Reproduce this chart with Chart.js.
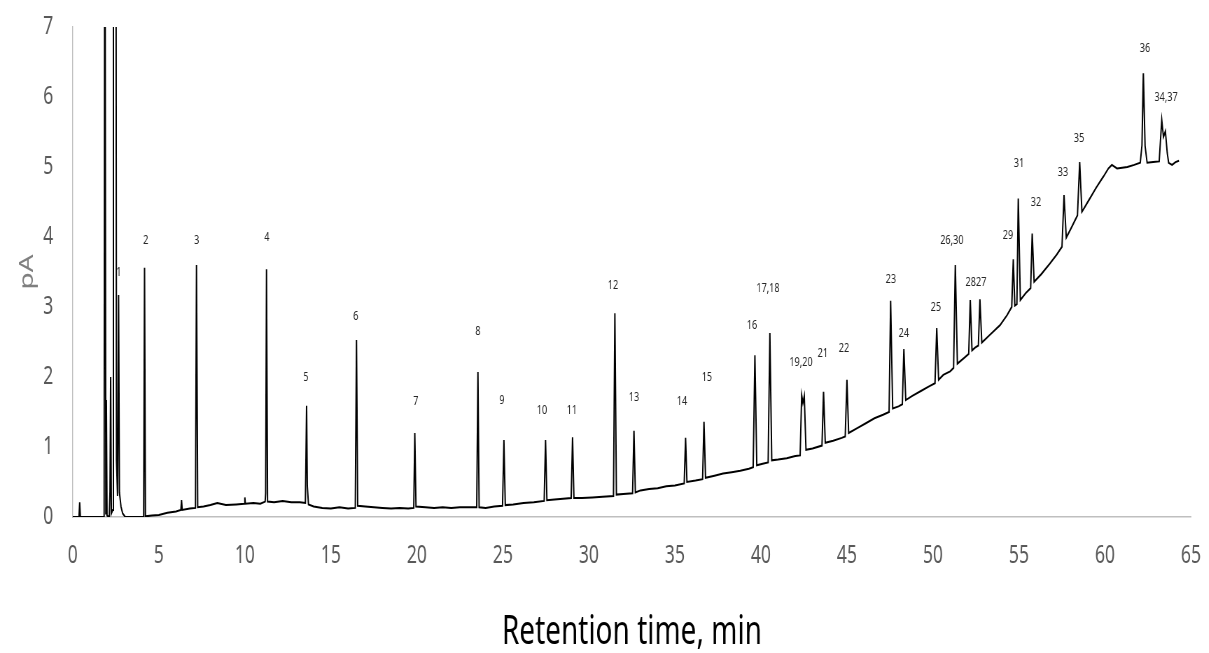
<!DOCTYPE html>
<html>
<head>
<meta charset="utf-8">
<script src="https://cdn.jsdelivr.net/npm/chart.js@4.4.1/dist/chart.umd.min.js"></script>
<style>
  html, body { margin: 0; padding: 0; background: #fff; overflow: hidden; }
  #wrap { width: 1209px; height: 653px; overflow: hidden; }
  #c { display: block; transform: scaleX(0.7); transform-origin: 0 0; }
</style>
</head>
<body>
<div id="wrap"><canvas id="c" width="1727" height="653"></canvas></div>
<script>
// Retention time (min)
const time = [
  0, 0.36, 0.40, 0.44, 1.82, 1.86, 1.92, 1.95, 1.99, 2.12, 2.16, 2.20, 2.24, 2.32, 2.36, 2.50, 2.54, 2.60, 2.66, 2.71, 2.80, 2.90, 3.05,
  3.6, 4.12, 4.17, 4.22, 4.6, 5.0, 5.5, 6.0, 6.28, 6.32, 6.36, 6.8, 7.13, 7.19, 7.26, 7.6, 8.0, 8.4, 8.9, 9.5, 9.97, 10.0, 10.03,
  10.5, 10.9, 11.18, 11.21, 11.26, 11.32, 11.7, 12.2, 12.7, 13.2, 13.52, 13.59, 13.63, 13.7, 14.0, 14.5, 15.0, 15.5, 16.0,
  16.42, 16.49, 16.56, 17.0, 17.5, 18.0, 18.5, 19.0, 19.5, 19.82, 19.88, 19.95, 20.5, 21.0, 21.5, 22.0, 22.5, 23.0,
  23.48, 23.55, 23.62, 24.0, 24.5, 24.98, 25.06, 25.14, 25.6, 26.2, 26.8, 27.4, 27.48, 27.56, 28.0, 28.5, 28.97, 29.05, 29.13,
  29.6, 30.2, 30.8, 31.43, 31.51, 31.6, 32.0, 32.54, 32.62, 32.7, 33.0, 33.5, 34.0, 34.5, 35.0, 35.54, 35.62, 35.7,
  36.2, 36.61, 36.69, 36.78, 37.3, 37.8, 38.3, 38.8, 39.3, 39.55, 39.65, 39.76, 40.1, 40.42, 40.52, 40.63, 41.0, 41.5, 42.0,
  42.28, 42.37, 42.44, 42.52, 42.62, 43.0, 43.55, 43.64, 43.74, 44.2, 44.7, 44.9, 45.0, 45.1, 45.6, 46.1, 46.6, 47.1,
  47.45, 47.54, 47.66, 48.0, 48.22, 48.31, 48.42, 48.8, 49.3, 49.8, 50.12, 50.22, 50.33, 50.6, 51.0, 51.2, 51.3, 51.42,
  51.8, 52.08, 52.17, 52.27, 52.45, 52.64, 52.73, 52.84, 53.3, 53.9, 54.3, 54.58, 54.67, 54.76, 54.88, 54.96, 55.08,
  55.4, 55.68, 55.77, 55.88, 56.3, 56.8, 57.2, 57.5, 57.62, 57.75, 58.1, 58.4, 58.53, 58.66, 59.0, 59.5, 59.9, 60.2,
  60.4, 60.7, 61.0, 61.3, 61.7, 62.05, 62.15, 62.23, 62.33, 62.45, 62.8, 63.15, 63.3, 63.4, 63.51, 63.62, 63.7, 63.9, 64.1, 64.3
];
// Detector signal (pA)
const signal = [
  0, 0, 0.21, 0, 0, 12, 0.05, 1.67, 0.02, 0.0, 0.36, 2.0, 0.05, 0.1, 12, 12, 0.8, 0.3, 3.17, 0.35, 0.15, 0.05, 0.0,
  0.0, 0.0, 3.56, 0.01, 0.02, 0.03, 0.06, 0.08, 0.1, 0.24, 0.1, 0.12, 0.13, 3.6, 0.14, 0.15, 0.17, 0.2, 0.17, 0.18, 0.19, 0.28, 0.19,
  0.2, 0.19, 0.22, 0.34, 3.54, 0.22, 0.21, 0.23, 0.21, 0.21, 0.2, 1.59, 0.45, 0.18, 0.15, 0.13, 0.12, 0.14, 0.12,
  0.13, 2.53, 0.16, 0.15, 0.14, 0.13, 0.12, 0.13, 0.12, 0.13, 1.2, 0.15, 0.14, 0.13, 0.14, 0.13, 0.14, 0.14,
  0.14, 2.07, 0.14, 0.13, 0.15, 0.16, 1.1, 0.17, 0.18, 0.2, 0.21, 0.23, 1.1, 0.24, 0.25, 0.26, 0.27, 1.14, 0.27,
  0.27, 0.28, 0.29, 0.3, 2.91, 0.32, 0.33, 0.34, 1.23, 0.35, 0.38, 0.4, 0.41, 0.44, 0.45, 0.48, 1.13, 0.5,
  0.52, 0.54, 1.36, 0.56, 0.59, 0.62, 0.64, 0.66, 0.69, 0.71, 2.31, 0.74, 0.76, 0.78, 2.63, 0.81, 0.82, 0.84, 0.87,
  0.88, 1.74, 1.63, 1.73, 0.96, 0.98, 1.02, 1.79, 1.06, 1.09, 1.13, 1.15, 1.96, 1.2, 1.27, 1.34, 1.41, 1.46,
  1.5, 3.09, 1.55, 1.58, 1.61, 2.4, 1.67, 1.73, 1.8, 1.87, 1.91, 2.7, 1.96, 2.03, 2.08, 2.13, 3.6, 2.19,
  2.27, 2.33, 3.1, 2.38, 2.42, 2.45, 3.11, 2.49, 2.6, 2.74, 2.88, 3.0, 3.68, 3.02, 3.04, 4.55, 3.1,
  3.2, 3.27, 4.05, 3.36, 3.47, 3.62, 3.75, 3.86, 4.6, 3.99, 4.16, 4.31, 5.07, 4.36, 4.5, 4.71, 4.86, 4.98,
  5.03, 4.98, 4.99, 5.0, 5.03, 5.06, 5.31, 6.34, 5.3, 5.06, 5.07, 5.08, 5.67, 5.43, 5.51, 5.2, 5.06, 5.03, 5.07, 5.09
];
// Peak annotations
const peakLabels = ['1','2','3','4','5','6','7','8','9','10','11','12','13','14','15','16','17,18','19,20','21','22','23','24','25','26,30','2827','29','31','32','33','35','36','34,37'];
const labelTime = [2.67, 4.24, 7.2, 11.28, 13.55, 16.45, 19.94, 23.55, 24.94, 27.27, 29.01, 31.4, 32.62, 35.41, 36.86, 39.48, 40.41, 42.33, 43.6, 44.83, 47.56, 48.31, 50.17, 51.1, 52.5, 54.36, 55.0, 55.99, 57.56, 58.49, 62.33, 63.55];
const labelSignal = [3.5, 3.96, 3.96, 3.99, 1.99, 2.87, 1.66, 2.66, 1.67, 1.53, 1.53, 3.31, 1.71, 1.66, 2.0, 2.74, 3.27, 2.21, 2.34, 2.41, 3.4, 2.63, 3.0, 3.96, 3.36, 4.03, 5.06, 4.49, 4.93, 5.41, 6.69, 6.0];

const FONT = "'Noto Sans', 'Open Sans', sans-serif";

const peakLabelPlugin = {
  id: 'peakLabels',
  afterDatasetsDraw(chart) {
    const {ctx, scales: {x, y}} = chart;
    ctx.save();
    ctx.font = "13px " + FONT;
    ctx.fillStyle = '#262626';
    ctx.textAlign = 'center';
    ctx.textBaseline = 'middle';
    peakLabels.forEach((txt, i) => {
      ctx.fillText(txt, x.getPixelForValue(labelTime[i]), y.getPixelForValue(labelSignal[i]));
    });
    ctx.restore();
  }
};

new Chart(document.getElementById('c'), {
  type: 'line',
  data: {
    datasets: [{
      data: time.map((t, i) => ({x: t, y: signal[i]})),
      borderColor: '#000000',
      borderWidth: 2,
      pointRadius: 0,
      tension: 0,
      fill: false
    }]
  },
  options: {
    responsive: false,
    animation: false,
    devicePixelRatio: 1,
    layout: { padding: { left: 0, right: 25.6, top: 27, bottom: 0 } },
    plugins: { legend: { display: false }, tooltip: { enabled: false } },
    scales: {
      x: {
        type: 'linear', min: 0, max: 65,
        grid: { display: false, drawTicks: false, tickLength: 0 },
        border: { display: true, color: '#bfbfbf', width: 1.5 },
        ticks: { stepSize: 5, autoSkip: false, maxRotation: 0, padding: 24, color: '#595959', font: { family: FONT, size: 25 } },
        title: { display: true, text: 'Retention time, min', color: '#000000', font: { family: FONT, size: 40, lineHeight: 1 }, padding: { top: 0, bottom: 0 } },
        afterFit: (s) => { s.height = 136; s.paddingLeft = 0; s.paddingRight = 0; }
      },
      y: {
        min: 0, max: 7,
        grid: { display: false, drawTicks: false, tickLength: 0 },
        border: { display: true, color: '#bfbfbf', width: 1.4 },
        ticks: { stepSize: 1, padding: 28, color: '#595959', font: { family: FONT, size: 25 } },
        title: { display: true, text: 'pA', color: '#7f7f7f', font: { family: FONT, size: 28 }, padding: { top: 22, bottom: 0 } },
        afterFit: (s) => { s.width = 104; s.paddingTop = 0; s.paddingBottom = 0; }
      }
    }
  },
  plugins: [peakLabelPlugin]
});
</script>
</body>
</html>
